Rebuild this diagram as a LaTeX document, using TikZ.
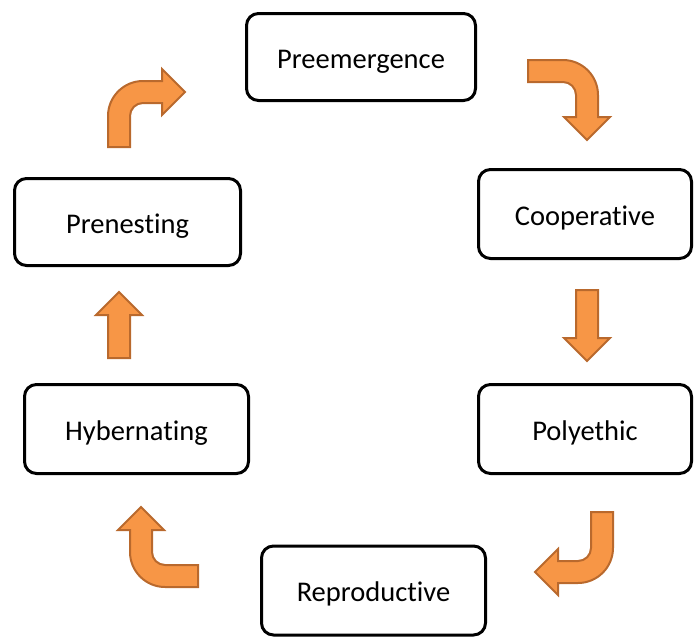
\documentclass[tikz,border=0pt]{standalone}
\usepackage{fontspec}
\setmainfont{Carlito}[RawFeature={-liga;-clig}]
\definecolor{arrowfill}{HTML}{F79646}
\definecolor{arrowline}{RGB}{185,105,45}
\begin{document}
\begin{tikzpicture}[x=1pt,y=-1pt,
  stage/.style={draw=black, line width=3pt, rounded corners=12pt, fill=white,
    font=\fontsize{28.5}{34}\selectfont, inner sep=0pt, text height=28pt, text depth=6pt,
    minimum height=89pt},
  blockarrow/.style={fill=arrowfill, draw=arrowline, line width=2pt, line join=miter}]
\useasboundingbox (0,0) rectangle (697,637);

\node[stage, minimum width=229pt, minimum height=87pt] (pre)  at (361,57)    {Preemergence};
\node[stage, minimum width=213pt] (coop) at (585,214)   {Cooperative};
\node[stage, minimum width=213pt] (poly) at (585,429)   {Polyethic};
\node[stage, minimum width=224pt] (repr) at (373.5,590.5) {Reproductive};
\node[stage, minimum width=224pt] (hyb)  at (136.5,429) {Hybernating};
\node[stage, minimum width=226pt, minimum height=87pt] (nest) at (127.5,222) {Prenesting};

% Prenesting -> Preemergence (up, then right)
\draw[blockarrow] (108,147) -- (108,116) .. controls (108,96.7) and (123.7,81) .. (143,81)
  -- (162,81) -- (162,69) -- (185,92) -- (162,115) -- (162,103) -- (143,103)
  .. controls (135.8,103) and (130,108.8) .. (130,116) -- (130,147) -- cycle;

% Preemergence -> Cooperative (right, then down)
\draw[blockarrow] (528,60) -- (563,60) .. controls (582.3,60) and (598,75.7) .. (598,95)
  -- (598,117) -- (610,117) -- (587,140) -- (564,117) -- (576,117) -- (576,95)
  .. controls (576,87.8) and (570.2,82) .. (563,82) -- (528,82) -- cycle;

% Cooperative -> Polyethic (down)
\draw[blockarrow] (576,290) -- (598,290) -- (598,338) -- (610,338) -- (587,361)
  -- (564,338) -- (576,338) -- cycle;

% Polyethic -> Reproductive (down, then left)
\draw[blockarrow] (591,512) -- (613,512) -- (613,548) .. controls (613,567.3) and (597.3,583) .. (578,583)
  -- (558,583) -- (558,595) -- (535,572) -- (558,549) -- (558,561) -- (578,561)
  .. controls (585.2,561) and (591,555.2) .. (591,548) -- cycle;

% Reproductive -> Hybernating (left, then up)
\draw[blockarrow] (198,565) -- (198,587) -- (165,587) .. controls (145.7,587) and (130,571.3) .. (130,552)
  -- (130,530) -- (118,530) -- (141,507) -- (164,530) -- (152,530) -- (152,552)
  .. controls (152,559.2) and (157.8,565) .. (165,565) -- cycle;

% Hybernating -> Prenesting (up)
\draw[blockarrow] (108,358) -- (108,315) -- (96,315) -- (119,292) -- (142,315)
  -- (130,315) -- (130,358) -- cycle;
\end{tikzpicture}
\end{document}
